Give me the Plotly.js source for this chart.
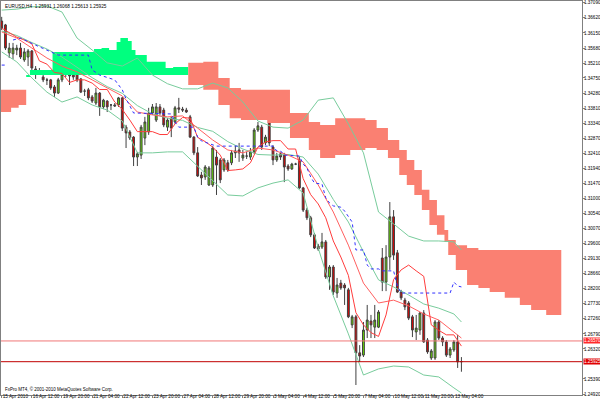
<!DOCTYPE html>
<html><head><meta charset="utf-8">
<script src="https://cdn.plot.ly/plotly-3.0.1.min.js"></script>
<style>html,body{margin:0;padding:0;background:#fff;}#chart{width:600px;height:404px;}</style>
</head><body><div id="chart"></div>
<script>
// ---- EURUSD H4 candles (bar index 0 = 15 Apr 2010) ----
const barOpen = [1.3652,1.3640,1.3553,1.3550,1.3562,1.3568,1.3531,1.3540,1.3559,1.3503,
1.3497,1.3478,1.3469,1.3469,1.3447,1.3428,1.3469,1.3487,1.3490,1.3490,
1.3490,1.3472,1.3434,1.3438,1.3416,1.3397,1.3428,1.3385,1.3403,1.3391,
1.3391,1.3391,1.3413,1.3322,1.3307,1.3291,1.3229,1.3235,1.3288,1.3307,
1.3366,1.3344,1.3385,1.3375,1.3322,1.3350,1.3338,1.3382,1.3378,1.3375,
1.3354,1.3291,1.3242,1.3173,1.3167,1.3142,1.3142,1.3229,1.3220,1.3189,
1.3211,1.3211,1.3242,1.3251,1.3226,1.3232,1.3229,1.3245,1.3313,1.3322,
1.3273,1.3354,1.3260,1.3220,1.3239,1.3235,1.3201,1.3192,1.3207,1.3220,
1.3133,1.3064,1.3040,1.2987,1.2952,1.2949,1.2965,1.2856,1.2887,1.2806,
1.2837,1.2831,1.2816,1.2707,1.2732,1.2620,1.2613,1.2691,1.2719,1.2700,
1.2700,1.2915,1.2840,1.2918,1.3043,1.2931,1.2809,1.2784,1.2775,1.2732,
1.2685,1.2691,1.2744,1.2660,1.2604,1.2604,1.2716,1.2666,1.2654,1.2613,
1.2629,1.2654,1.25931];
const barHigh = [1.3665,1.3643,1.3584,1.3584,1.3578,1.3584,1.3568,1.3565,1.3562,1.3512,
1.3506,1.3487,1.3475,1.3472,1.3453,1.3475,1.3494,1.3500,1.3497,1.3500,
1.3522,1.3475,1.3441,1.3444,1.3422,1.3444,1.3431,1.3410,1.3406,1.3394,
1.3397,1.3416,1.3416,1.3329,1.3313,1.3294,1.3245,1.3329,1.3354,1.3382,
1.3394,1.3397,1.3394,1.3382,1.3350,1.3357,1.3388,1.3413,1.3385,1.3382,
1.3360,1.3294,1.3260,1.3183,1.3204,1.3201,1.3263,1.3251,1.3226,1.3226,
1.3220,1.3251,1.3266,1.3273,1.3251,1.3245,1.3257,1.3319,1.3338,1.3329,
1.3298,1.3357,1.3266,1.3242,1.3245,1.3242,1.3207,1.3211,1.3211,1.3229,
1.3136,1.3071,1.3046,1.2993,1.2959,1.2993,1.2971,1.2893,1.2893,1.2853,
1.2847,1.2837,1.2822,1.2738,1.2738,1.2644,1.2716,1.2769,1.2738,1.2769,
1.2753,1.2946,1.2955,1.3089,1.3064,1.2940,1.2816,1.2791,1.2781,1.2738,
1.2738,1.2747,1.2753,1.2666,1.2632,1.2722,1.2722,1.2672,1.2660,1.2638,
1.2660,1.2676,1.26068];
const barLow = [1.3624,1.3562,1.3537,1.3534,1.3546,1.3534,1.3525,1.3512,1.3497,1.3472,
1.3490,1.3462,1.3453,1.3438,1.3416,1.3425,1.3462,1.3478,1.3453,1.3469,
1.3462,1.3428,1.3419,1.3406,1.3397,1.3391,1.3357,1.3378,1.3369,1.3375,
1.3385,1.3385,1.3310,1.3257,1.3282,1.3201,1.3201,1.3223,1.3266,1.3298,
1.3360,1.3338,1.3360,1.3322,1.3310,1.3291,1.3332,1.3366,1.3369,1.3366,
1.3288,1.3235,1.3167,1.3142,1.3158,1.3139,1.3136,1.3111,1.3148,1.3183,
1.3183,1.3204,1.3226,1.3214,1.3217,1.3223,1.3220,1.3239,1.3307,1.3251,
1.3266,1.3263,1.3204,1.3214,1.3220,1.3151,1.3186,1.3189,1.3204,1.3130,
1.3058,1.3033,1.2980,1.2943,1.2937,1.2943,1.2850,1.2816,1.2800,1.2791,
1.2816,1.2769,1.2728,1.2697,1.2520,1.2592,1.2607,1.2666,1.2666,1.2666,
1.2697,1.2812,1.2812,1.2878,1.2909,1.2806,1.2784,1.2753,1.2722,1.2669,
1.2660,1.2676,1.2651,1.2617,1.2598,1.2598,1.2660,1.2641,1.2607,1.2604,
1.2623,1.2573,1.25613];
const barClose = [1.3630,1.3568,1.3568,1.3568,1.3568,1.3540,1.3556,1.3559,1.3506,1.3500,
1.3497,1.3469,1.3468,1.3444,1.3428,1.3469,1.3487,1.3497,1.3481,1.3478,
1.3469,1.3431,1.3434,1.3413,1.3403,1.3428,1.3385,1.3406,1.3385,1.3391,
1.3388,1.3413,1.3319,1.3304,1.3288,1.3229,1.3239,1.3322,1.3338,1.3366,
1.3385,1.3385,1.3366,1.3329,1.3344,1.3319,1.3382,1.3378,1.3375,1.3369,
1.3291,1.3242,1.3170,1.3164,1.3198,1.3195,1.3257,1.3204,1.3158,1.3220,
1.3189,1.3242,1.3248,1.3242,1.3235,1.3232,1.3245,1.3313,1.3326,1.3260,
1.3291,1.3273,1.3220,1.3232,1.3229,1.3198,1.3192,1.3207,1.3207,1.3133,
1.3064,1.3040,1.2987,1.2946,1.2943,1.2965,1.2856,1.2887,1.2809,1.2831,
1.2822,1.2822,1.2732,1.2732,1.2620,1.2610,1.2691,1.2722,1.2707,1.2722,
1.2747,1.2840,1.2918,1.3043,1.2924,1.2809,1.2791,1.2763,1.2728,1.2691,
1.2697,1.2744,1.2654,1.2623,1.2626,1.2716,1.2666,1.2654,1.2613,1.2632,
1.2654,1.2592,1.25925];

// ---- Bollinger bands and moving average (sampled bars) ----
const sampleBars = [0,4,8,12,16,20,24,28,32,36,40,44,48,52,56,60,64,68,72,76,80,84,88,92,96,100,104,108,112,116,120,122];
const bbUpper = [1.3686,1.3689,1.3696,1.3699,1.3680,1.3599,1.3562,1.3522,1.3512,1.3537,1.3484,1.3457,1.3441,1.3441,1.3459,1.3444,1.3400,1.3341,1.3322,1.3319,1.3344,1.3406,1.3413,1.3332,1.3242,1.3058,1.3021,1.2983,1.2968,1.2968,1.2965,1.2940];
const bbMiddle = [1.3621,1.3607,1.3585,1.3565,1.3540,1.3508,1.3476,1.3448,1.3427,1.3389,1.3363,1.3350,1.3343,1.3321,1.3309,1.3277,1.3254,1.3237,1.3235,1.3237,1.3229,1.3176,1.3097,1.3027,1.2934,1.2847,1.2825,1.2800,1.2772,1.2759,1.2741,1.2716];
const bbLower = [1.3556,1.3525,1.3475,1.3431,1.3400,1.3416,1.3391,1.3375,1.3341,1.3242,1.3242,1.3245,1.3245,1.3201,1.3158,1.3111,1.3108,1.3133,1.3148,1.3158,1.3117,1.2946,1.2797,1.2679,1.2551,1.2570,1.2579,1.2576,1.2551,1.2545,1.2511,1.2495];
const maLine = [1.3618,1.3599,1.3568,1.3537,1.3512,1.3494,1.3469,1.3444,1.3419,1.3369,1.3360,1.3354,1.3357,1.3319,1.3282,1.3251,1.3242,1.3257,1.3251,1.3235,1.3214,1.3142,1.3058,1.2955,1.2837,1.2775,1.2784,1.2766,1.2741,1.2722,1.2685,1.2666];

// ---- Ichimoku Tenkan-sen (every 2nd bar) ----
const tenkan = [1.3630,1.3615,1.3602,1.3593,1.3581,1.3528,1.3518,1.3492,1.3489,1.3461,1.3469,1.3469,1.3459,1.3439,1.3439,1.3400,1.3377,1.3344,1.3308,1.3308,1.3308,1.3299,1.3299,1.3332,1.3352,1.3350,1.3290,1.3277,1.3260,1.3235,1.3187,1.3189,1.3192,1.3211,1.3260,1.3276,1.3280,1.3280,1.3254,1.3254,1.3162,1.3112,1.3083,1.3040,1.2968,1.2918,1.2861,1.2745,1.2707,1.2683,1.2671,1.2738,1.2848,1.2878,1.2893,1.2875,1.2858,1.2707,1.2690,1.2676,1.2676,1.2641];
// ---- Ichimoku Kijun-sen ----
const kijunBars = [0,1,2,3,5,9,14,15,23,24,26,30,32,33,35,45,46,47,51,52,53,57,72,73,74,75,79,80,81,82,83,85,86,87,88,90,91,92,93,94,96,97,98,100,101,104,105,106,119,120,121,122];
const kijun = [1.3515,1.3515,null,1.3593,1.3599,1.3577,1.3553,1.3546,1.3546,1.3500,1.3484,1.3469,1.3438,1.3410,1.3366,1.3363,1.3338,1.3322,1.3322,1.3291,1.3279,1.3263,1.3263,1.3248,1.3248,1.3235,1.3232,1.3207,1.3195,1.3167,1.3148,1.3145,1.3102,1.3086,1.3077,1.3073,1.3061,1.3043,1.3027,1.2940,1.2940,1.2893,1.2881,1.2881,1.2875,1.2875,1.2828,1.2806,1.2806,1.2840,1.2828,1.2825];

// ---- Ichimoku cloud (shifted 26 bars), step start bars ----
const cloud1Start = [0,3,5], cloud1End = 6;
const cloud1Top = [1.3438,1.3438,1.3438];
const cloud1Bot = [1.3369,1.3382,1.3391];
const cloud2Start = [7,8,14,25,27,29,31,32,34,35,36,39,44,46], cloud2End = 49;
const cloud2Top = [1.3484,1.3500,1.3556,1.3565,1.3568,1.3562,1.3587,1.3599,1.3590,1.3562,1.3546,1.3525,1.3506,1.3509];
const cloud2Bot = [1.3478,1.3484,1.3484,1.3484,1.3484,1.3484,1.3484,1.3484,1.3484,1.3484,1.3484,1.3484,1.3484,1.3484];
const cloud3Start = [50,54,58,61,64,71,77,82,85,89,93,97,100,103,106,108,110,112,114,116,118,119,121,124,127,130,134,138,141,145], cloud3End = 148;
const cloud3Top = [1.3522,1.3525,1.3475,1.3444,1.3438,1.3438,1.3366,1.3338,1.3329,1.3350,1.3350,1.3344,1.3319,1.3282,1.3251,1.3220,1.3189,1.3127,1.3095,1.3048,1.3002,1.2971,1.2955,1.2946,1.2940,1.2940,1.2940,1.2940,1.2940,1.2940];
const cloud3Bot = [1.3453,1.3438,1.3391,1.3350,1.3344,1.3335,1.3288,1.3251,1.3226,1.3235,1.3251,1.3257,1.3251,1.3226,1.3173,1.3142,1.3111,1.3064,1.3018,1.2987,1.2965,1.2924,1.2878,1.2831,1.2822,1.2809,1.2791,1.2769,1.2753,1.2738];

// ---- horizontal price levels ----
const levelUpper = 1.26570;
const levelClose = 1.25925;

// ---- axis labels ----
const dateTickBars = [0,8,16,24,32,40,48,56,64,72,80,88,96,104,112,120];
const dateTickText = ["15 Apr 2010","16 Apr 12:00","19 Apr 20:00","21 Apr 04:00","22 Apr 12:00","23 Apr 20:00","27 Apr 04:00","28 Apr 12:00","29 Apr 20:00","3 May 04:00","4 May 12:00","5 May 20:00","7 May 04:00","10 May 12:00","11 May 20:00","13 May 04:00"];
const priceTicks = [1.37090,1.36620,1.36150,1.35680,1.35210,1.34750,1.34280,1.33810,1.33340,1.32870,1.32410,1.31940,1.31470,1.31000,1.30540,1.30070,1.29600,1.29130,1.28660,1.28200,1.27730,1.27260,1.26790,1.26320,1.25390,1.24920];

const FONT = 'Liberation Sans, Arial, sans-serif';
const barIdx = barOpen.map((_, i) => i);

function cloudPair(starts, end, top, bot, color) {
  const xs = starts.map(s => s - 0.5).concat([end + 0.5]);
  const yt = top.concat([top[top.length - 1]]);
  const yb = bot.concat([bot[bot.length - 1]]);
  return [
    {type:'scatter', mode:'lines', x:xs, y:yb, line:{width:0, shape:'hv'}, hoverinfo:'skip', showlegend:false},
    {type:'scatter', mode:'lines', x:xs, y:yt, line:{width:0, shape:'hv'}, fill:'tonexty', fillcolor:color, hoverinfo:'skip', showlegend:false}
  ];
}
function lineTrace(x, y, color, dash) {
  return {type:'scatter', mode:'lines', x:x, y:y, line:{color:color, width:1, dash:dash||'solid'}, hoverinfo:'skip', showlegend:false, connectgaps:false};
}

const SALMON = '#fa8072', SPRING = '#00ff7f';
const traces = []
  .concat(cloudPair(cloud1Start, cloud1End, cloud1Top, cloud1Bot, SALMON))
  .concat(cloudPair(cloud2Start, cloud2End, cloud2Top, cloud2Bot, SPRING))
  .concat(cloudPair(cloud3Start, cloud3End, cloud3Top, cloud3Bot, SALMON));

const bbColor = '#78cc9c';
traces.push(lineTrace(sampleBars, bbUpper, bbColor));
traces.push(lineTrace(sampleBars, bbMiddle, bbColor));
traces.push(lineTrace(sampleBars, bbLower, bbColor));
traces.push(lineTrace(sampleBars, maLine, '#ff6060'));
traces.push(lineTrace(tenkan.map((_, i) => i * 2), tenkan, '#ff3c3c'));
traces.push(lineTrace(kijunBars, kijun, '#3030ff', 'dot'));

traces.push({
  type:'candlestick', x:barIdx, open:barOpen, high:barHigh, low:barLow, close:barClose,
  increasing:{line:{color:'#404040', width:1}, fillcolor:'#66dd00'},
  decreasing:{line:{color:'#404040', width:1}, fillcolor:'#e00000'},
  whiskerwidth:0, hoverinfo:'skip', showlegend:false
});

const layout = {
  width:600, height:404,
  margin:{l:1, r:18, t:1, b:9},
  paper_bgcolor:'#ffffff', plot_bgcolor:'#ffffff',
  showlegend:false,
  font:{family:FONT, size:5, color:'#000'},
  xaxis:{
    range:[-0.186, 154.0], showgrid:false, zeroline:false,
    showline:true, linecolor:'#808080', linewidth:1, mirror:true,
    tickmode:'array', tickvals:dateTickBars, ticktext:dateTickText,
    ticks:'outside', ticklen:2, tickcolor:'#808080', tickangle:0,
    ticklabelposition:'outside right', ticklabelstandoff:-4,
    tickfont:{family:FONT, size:4.7, color:'#000'},
    rangeslider:{visible:false}, fixedrange:true
  },
  yaxis:{
    range:[1.24889, 1.37143], side:'right', showgrid:false, zeroline:false,
    showline:true, linecolor:'#808080', linewidth:1, mirror:true,
    tickmode:'array', tickvals:priceTicks, ticktext:priceTicks.map(v => v.toFixed(5)),
    ticks:'outside', ticklen:2, tickcolor:'#808080', ticklabelstandoff:-2,
    tickfont:{family:FONT, size:4.6, color:'#000'}, fixedrange:true
  },
  shapes:[
    {type:'line', xref:'paper', x0:0, x1:1, yref:'y', y0:levelUpper, y1:levelUpper, line:{color:'#f07878', width:1}},
    {type:'line', xref:'paper', x0:0, x1:1, yref:'y', y0:levelClose, y1:levelClose, line:{color:'#c00000', width:1}}
  ],
  annotations:[
    {xref:'paper', yref:'paper', x:0, y:1, xanchor:'left', yanchor:'top', xshift:2, yshift:-1, showarrow:false,
     text:'EURUSD,H4  1.25931 1.26068 1.25613 1.25925', font:{family:FONT, size:4.7, color:'#000'}},
    {xref:'paper', yref:'paper', x:0, y:0, xanchor:'left', yanchor:'bottom', xshift:2, yshift:1, showarrow:false,
     text:'FxPro MT4, © 2001-2010 MetaQuotes Software Corp.', font:{family:FONT, size:4.5, color:'#000'}},
    {xref:'paper', yref:'y', x:1, y:levelUpper, xanchor:'left', yanchor:'middle', xshift:1, showarrow:false,
     text:levelUpper.toFixed(5), bgcolor:'#ff2a2a', borderpad:0, font:{family:FONT, size:4.6, color:'#fff'}},
    {xref:'paper', yref:'y', x:1, y:levelClose, xanchor:'left', yanchor:'middle', xshift:1, showarrow:false,
     text:levelClose.toFixed(5), bgcolor:'#e00000', borderpad:0, font:{family:FONT, size:4.6, color:'#fff'}}
  ]
};

Plotly.newPlot('chart', traces, layout, {staticPlot:true, displayModeBar:false});
</script>
</body></html>
